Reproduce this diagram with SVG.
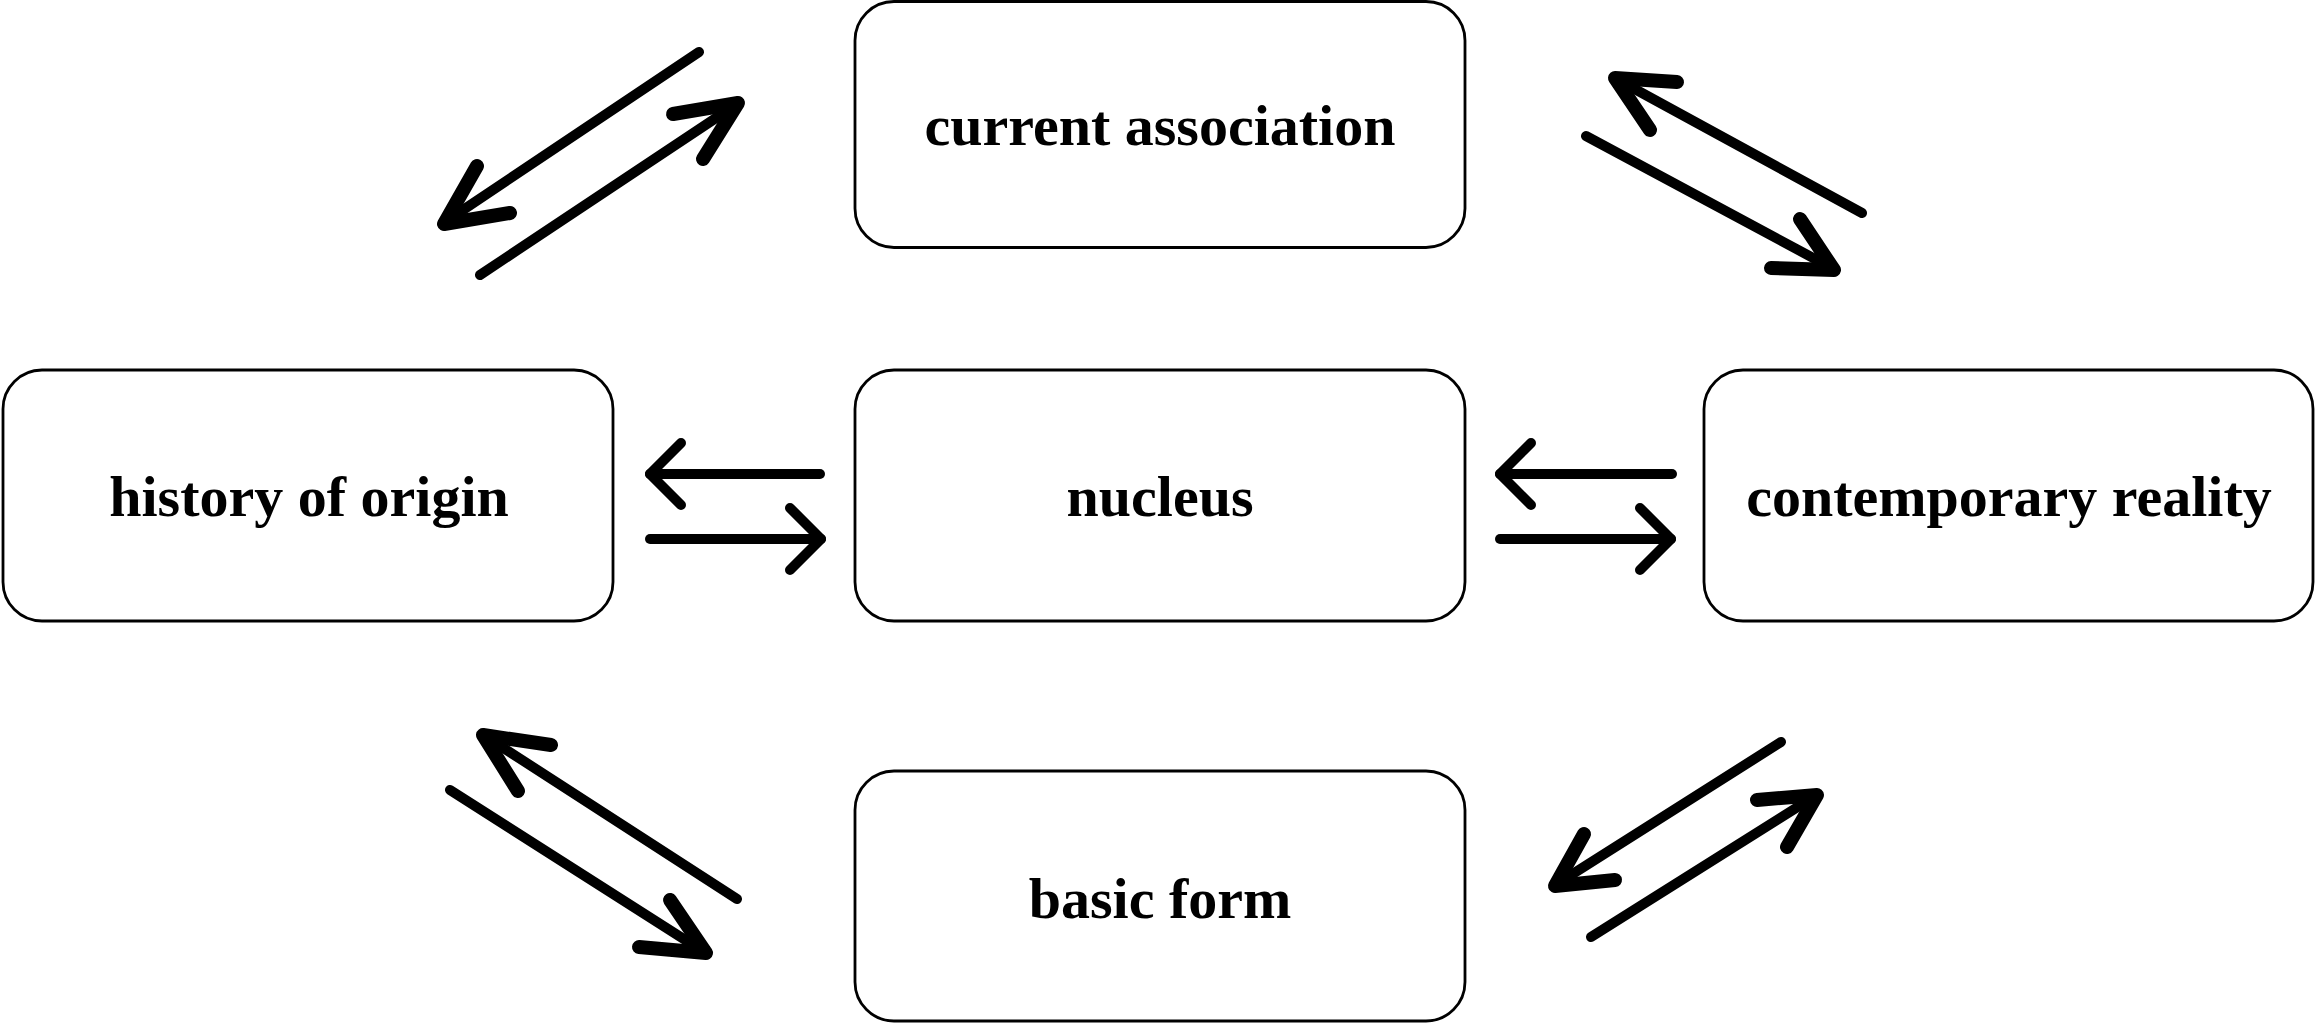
<svg xmlns="http://www.w3.org/2000/svg" width="2318" height="1023" viewBox="0 0 2318 1023">
<style>
.box{fill:#fff;stroke:#000;stroke-width:2.8}
.lbl{font-family:"Liberation Serif","Times New Roman",serif;font-weight:bold;font-size:58px;fill:#000;text-anchor:middle}
.shaft{fill:none;stroke:#000;stroke-width:10;stroke-linecap:round;stroke-linejoin:round}
.head{fill:none;stroke:#000;stroke-width:14;stroke-linecap:round;stroke-linejoin:round}
.hhead{fill:none;stroke:#000;stroke-width:10;stroke-linecap:round;stroke-linejoin:round}
</style>
<rect width="2318" height="1023" fill="#fff"/>
<g id="connectors">
  <!-- history <-> nucleus -->
  <path class="shaft" d="M820,474 L650,474"/>
  <path class="hhead" d="M681,443 L650,474 L681,505"/>
  <path class="shaft" d="M650,539 L821,539"/>
  <path class="hhead" d="M790,508 L821,539 L790,570"/>
  <!-- nucleus <-> contemporary -->
  <path class="shaft" d="M1672,474 L1500,474"/>
  <path class="hhead" d="M1531,443 L1500,474 L1531,505"/>
  <path class="shaft" d="M1500,539 L1671,539"/>
  <path class="hhead" d="M1640,508 L1671,539 L1640,570"/>
  <!-- top-left pair -->
  <path class="shaft" d="M699,52 L448,220"/>
  <path class="head" d="M477,166 L444,224 L510,213"/>
  <path class="shaft" d="M480,275 L734,106"/>
  <path class="head" d="M673,114 L738,103 L703,159"/>
  <!-- top-right pair -->
  <path class="shaft" d="M1862,213 L1620,81"/>
  <path class="head" d="M1677,82 L1615,78 L1650,130"/>
  <path class="shaft" d="M1586,136 L1830,267"/>
  <path class="head" d="M1800,219 L1834,270 L1771,268"/>
  <!-- bottom-left pair -->
  <path class="shaft" d="M737,899 L488,738"/>
  <path class="head" d="M551,745 L483,735 L518,791"/>
  <path class="shaft" d="M450,790 L701,950"/>
  <path class="head" d="M670,900 L706,953 L639,947"/>
  <!-- bottom-right pair -->
  <path class="shaft" d="M1781,742 L1560,882"/>
  <path class="head" d="M1584,834 L1555,886 L1615,880"/>
  <path class="shaft" d="M1591,937 L1812,798"/>
  <path class="head" d="M1757,800 L1817,795 L1787,847"/>
</g>
<g id="node-current-association">
  <rect class="box" x="855" y="1.5" width="610" height="246" rx="39"/>
  <text class="lbl" x="1160" y="145">current association</text>
</g>
<g id="node-history-of-origin">
  <rect class="box" x="3" y="370" width="610" height="251" rx="39"/>
  <text class="lbl" x="309" y="516">history of origin</text>
</g>
<g id="node-nucleus">
  <rect class="box" x="855" y="370" width="610" height="251" rx="39"/>
  <text class="lbl" x="1160" y="516">nucleus</text>
</g>
<g id="node-contemporary-reality">
  <rect class="box" x="1704" y="370" width="609" height="251" rx="39"/>
  <text class="lbl" x="2009" y="516">contemporary reality</text>
</g>
<g id="node-basic-form">
  <rect class="box" x="855" y="771" width="610" height="250" rx="39"/>
  <text class="lbl" x="1160" y="918">basic form</text>
</g>
</svg>
